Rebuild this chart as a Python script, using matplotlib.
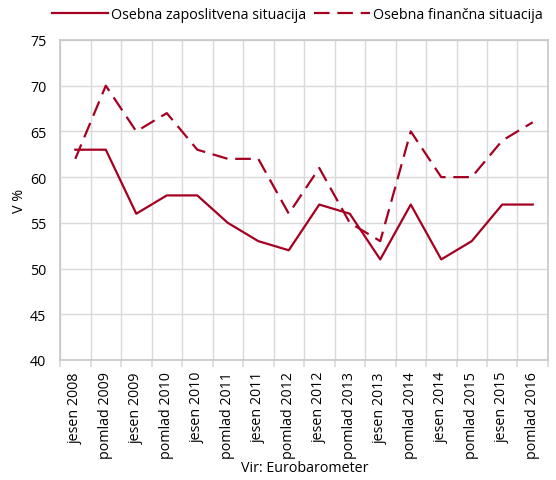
import numpy as np
import matplotlib
matplotlib.use("Agg")
import matplotlib.pyplot as plt

plt.rcParams["font.family"] = ["Open Sans", "DejaVu Sans"]

# --- Data ---
periods = ["jesen 2008", "pomlad 2009", "jesen 2009", "pomlad 2010",
           "jesen 2010", "pomlad 2011", "jesen 2011", "pomlad 2012",
           "jesen 2012", "pomlad 2013", "jesen 2013", "pomlad 2014",
           "jesen 2014", "pomlad 2015", "jesen 2015", "pomlad 2016"]
zaposlitvena = [63, 63, 56, 58, 58, 55, 53, 52, 57, 56, 51, 57, 51, 53, 57, 57]
financna = [62, 70, 65, 67, 63, 62, 62, 56, 61, 55, 53, 65, 60, 60, 64, 66]

color = "#A50021"
grid_c = "#D9D9D9"
fs = 10.3

fig = plt.figure(figsize=(5.56, 4.81), dpi=100)
ax = fig.add_axes([0.108, 0.2495, 0.8776, 0.6653])

x = np.arange(len(periods))
ax.plot(x, zaposlitvena, color=color, linewidth=1.6,
        label="Osebna zaposlitvena situacija")
ax.plot(x, financna, color=color, linewidth=1.6, dashes=(7, 3.5),
        label="Osebna finančna situacija")

ax.set_xlim(-0.5, len(periods) - 0.5)
ax.set_ylim(40, 75)
ax.set_yticks(np.arange(40, 76, 5))
ax.set_xticks(x)
ax.set_xticklabels(periods, rotation=90, fontsize=fs)
ax.tick_params(axis="x", length=0, pad=8)
ax.set_xticks(np.arange(-0.5, len(periods), 1), minor=True)
ax.tick_params(axis="x", which="minor", length=5, color=grid_c, width=1.2)
ax.tick_params(axis="y", length=0, labelsize=fs, pad=10)

ax.grid(True, which="minor", axis="x", color=grid_c, linewidth=1)
ax.grid(True, which="major", axis="y", color=grid_c, linewidth=1)
ax.set_axisbelow(True)
for s in ax.spines.values():
    s.set_color("#C8C8C8")
    s.set_linewidth(1.2)

ax.set_ylabel("V %", fontsize=fs, labelpad=2)

fig.text(0.549, 0.027, "Vir: Eurobarometer", ha="center", va="center",
         fontsize=fs)

fig.legend(loc="center", bbox_to_anchor=(0.535, 0.968), ncol=2,
           frameon=False, fontsize=fs, handlelength=3.9,
           handletextpad=0.25, columnspacing=0.5)

fig.savefig("out.png", dpi=100)
